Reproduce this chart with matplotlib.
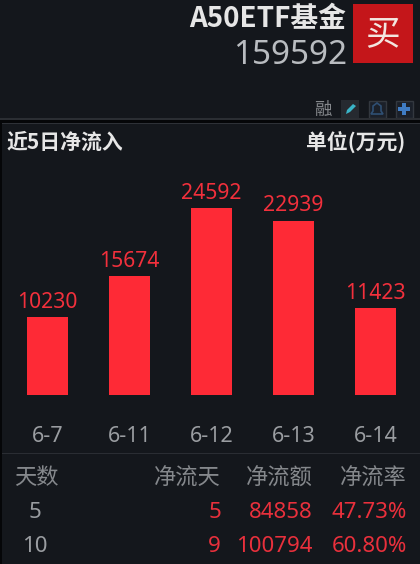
import matplotlib
matplotlib.use('Agg')
import matplotlib.pyplot as plt
from matplotlib.patches import Rectangle, Polygon

plt.rcParams['font.family'] = ['Noto Sans CJK SC', 'DejaVu Sans']
NUM = ['Noto Sans', 'Noto Sans CJK SC']

dates = ['6-7', '6-11', '6-12', '6-13', '6-14']
inflow = [10230, 15674, 24592, 22939, 11423]
table_head = ['天数', '净流天', '净流额', '净流率']
table_days = ['5', '10']
table_pos = ['5', '9']
table_amt = ['84858', '100794']
table_rate = ['47.73%', '60.80%']

BG = '#14171c'
RED = '#fe2a36'
TXT = '#9a9da1'
W, H = 420, 564

fig = plt.figure(figsize=(W / 100, H / 100), dpi=100, facecolor=BG)
bg = fig.add_axes([0, 0, 1, 1])
bg.set_xlim(0, W)
bg.set_ylim(H, 0)
bg.axis('off')

# header
bg.text(346, 19, 'A50ETF基金', color='#e6e6e6', fontsize=20, fontweight='bold', ha='right', va='center')
bg.text(347, 55, '159592', color='#b9bcc0', fontsize=24, ha='right', va='center', family=NUM)
bg.add_patch(Rectangle((353, 4), 60, 59, color='#c4161a', lw=0))
bg.text(383, 36, '买', color='#f3e6e0', fontsize=25, ha='center', va='center')
bg.text(323, 110, '融', color='#85888c', fontsize=12.5, ha='center', va='center')
bg.add_patch(Rectangle((341, 100), 18, 18, color='#262a30', lw=0))
bg.add_patch(Polygon([(346, 114), (347, 110), (353, 104), (356, 106), (350, 112)], color='#3ab5c8', lw=0))
bg.add_patch(Rectangle((368.5, 100.5), 17, 17, fc='#1b2029', ec='#33383f', lw=1))
bg.add_patch(Polygon([(371, 114), (373, 111), (373, 106), (377, 103), (381, 106), (381, 111), (383, 114)],
                     fc='none', ec='#2f4f73', lw=1.2))
bg.add_patch(Rectangle((395.5, 100.5), 17, 17, fc='#1b2029', ec='#33383f', lw=1))
bg.add_patch(Rectangle((402, 103), 4, 12, color='#3f7cc4', lw=0))
bg.add_patch(Rectangle((398, 107), 12, 4, color='#3f7cc4', lw=0))

# separators
bg.add_patch(Rectangle((0, 118), W, 2, color='#2b2e33', lw=0))
bg.add_patch(Rectangle((0, 120), W, 3, color='#050608', lw=0))
bg.add_patch(Rectangle((2, 123), W, 1, color='#2e3137', lw=0))
bg.add_patch(Rectangle((0, 123), 2, H, color='#050608', lw=0))
bg.add_patch(Rectangle((2, 453), W, 1, color='#2a2d33', lw=0))

bg.text(7, 142, '近5日净流入', color='#e6e6e6', fontsize=15, fontweight='bold', ha='left', va='center')
bg.text(405, 142, '单位(万元)', color='#e6e6e6', fontsize=15, fontweight='bold', ha='right', va='center')

# bars
ax = fig.add_axes([6.5 / W, (H - 395) / H, 410 / W, 270 / H])
ax.patch.set_alpha(0)
ax.bar(range(len(dates)), inflow, width=0.5, color=RED, linewidth=0)
for i, v in enumerate(inflow):
    ax.annotate(str(v), (i, v), xytext=(0, 3), textcoords='offset points', ha='center', va='bottom',
                color='#f2303c', fontsize=15.2, family=NUM)
ax.set_xlim(-0.5, 4.5)
ax.set_ylim(0, 35526)
ax.set_yticks([])
ax.set_xticks(range(len(dates)))
ax.set_xticklabels(dates, color=TXT, fontsize=15.5, family=NUM)
ax.tick_params(axis='x', length=0, pad=22)
for s in ax.spines.values():
    s.set_visible(False)

# table
hx = [14, 221, 313, 407]
ha = ['left', 'right', 'right', 'right']
for x, a, t in zip(hx, ha, table_head):
    bg.text(x, 478, t, color='#85888c', fontsize=16, ha=a, va='center')
for y, d, p, m, r in zip([513, 547], table_days, table_pos, table_amt, table_rate):
    bg.text(35, y, d, color=TXT, fontsize=16, ha='center', va='center', family=NUM)
    bg.text(221, y, p, color='#e9303c', fontsize=16, ha='right', va='center', family=NUM)
    bg.text(313, y, m, color='#e9303c', fontsize=16, ha='right', va='center', family=NUM)
    bg.text(407, y, r, color='#e9303c', fontsize=16, ha='right', va='center', family=NUM)

fig.savefig('out.png', dpi=100, facecolor=BG)
